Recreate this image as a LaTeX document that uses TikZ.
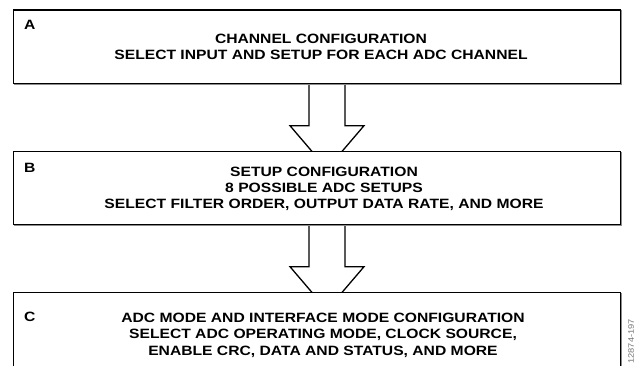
\documentclass[tikz,border=0pt]{standalone}
\usepackage{fontspec}
\setmainfont{Liberation Sans}[FakeStretch=1.16]
\usetikzlibrary{calc,backgrounds}
\tikzset{
  stagebox/.style={draw=black, line width=1.3pt, fill=white, rectangle, inner sep=0pt,
    minimum width=607.3pt, anchor=north west,
    preaction={draw=black!45, line width=1pt, transform canvas={xshift=1pt,yshift=-1pt}}},
  stagelabel/.style={anchor=north west, inner sep=0pt, font=\bfseries\fontsize{13.5pt}{16.4pt}\selectfont},
  stagetext/.style={anchor=north, inner sep=0pt, align=center, font=\bfseries\fontsize{13.5pt}{16.4pt}\selectfont},
  blockarrow/.style={draw=black, line width=1.3pt, fill=white, line join=miter},
  figid/.style={rotate=90, anchor=east, inner sep=0pt, text=black!55, font=\fontsize{8pt}{9pt}\selectfont}
}
\begin{document}
\begin{tikzpicture}[x=1pt,y=1pt]
\useasboundingbox (0,0) rectangle (643,366);
\clip (0,0) rectangle (643,366);
% boxes (y = 366 - y measured downward in the reference)
\node[stagebox, minimum height=73.4pt] (boxA) at (12.7,356.7) {};
\node[stagebox, minimum height=73.3pt] (boxB) at (12.7,215.3) {};
\node[stagebox, minimum height=90pt] (boxC) at (12.7,74.3) {};
% letters
\node[stagelabel] (labA) at ($(boxA.north west)+(11.3,-11.2)$) {A};
\node[stagelabel] (labB) at ($(boxB.north west)+(11.3,-12.4)$) {B};
\node[stagelabel] (labC) at ($(boxC.north west)+(11.3,-20.5)$) {C};
% texts
\node[stagetext] (txtA) at ($(boxA.north)+(4,-24.2)$) {CHANNEL CONFIGURATION\\SELECT INPUT AND SETUP FOR EACH ADC CHANNEL};
\node[stagetext] (txtB) at ($(boxB.north)+(7,-15.8)$) {SETUP CONFIGURATION\\8 POSSIBLE ADC SETUPS\\SELECT FILTER ORDER, OUTPUT DATA RATE, AND MORE};
\node[stagetext] (txtC) at ($(boxC.north)+(6,-21)$) {ADC MODE AND INTERFACE MODE CONFIGURATION\\SELECT ADC OPERATING MODE, CLOCK SOURCE,\\ENABLE CRC, DATA AND STATUS, AND MORE};
% arrows behind the boxes
\begin{scope}[on background layer]
\draw[blockarrow] ($(boxA.south)+(-8,0)$) -- ($(boxB.north)+(-8,25)$) -- ($(boxB.north)+(-27,25)$)
  -- ($(boxB.north)+(10,-18.3)$) -- ($(boxB.north)+(47,25)$) -- ($(boxB.north)+(28,25)$) -- ($(boxA.south)+(28,0)$);
\draw[blockarrow] ($(boxB.south)+(-8,0)$) -- ($(boxC.north)+(-8,25)$) -- ($(boxC.north)+(-27,25)$)
  -- ($(boxC.north)+(10,-18.3)$) -- ($(boxC.north)+(47,25)$) -- ($(boxC.north)+(28,25)$) -- ($(boxB.south)+(28,0)$);
\end{scope}
\node[figid] (fid) at (631,47) {12874-197};
\end{tikzpicture}
\end{document}
